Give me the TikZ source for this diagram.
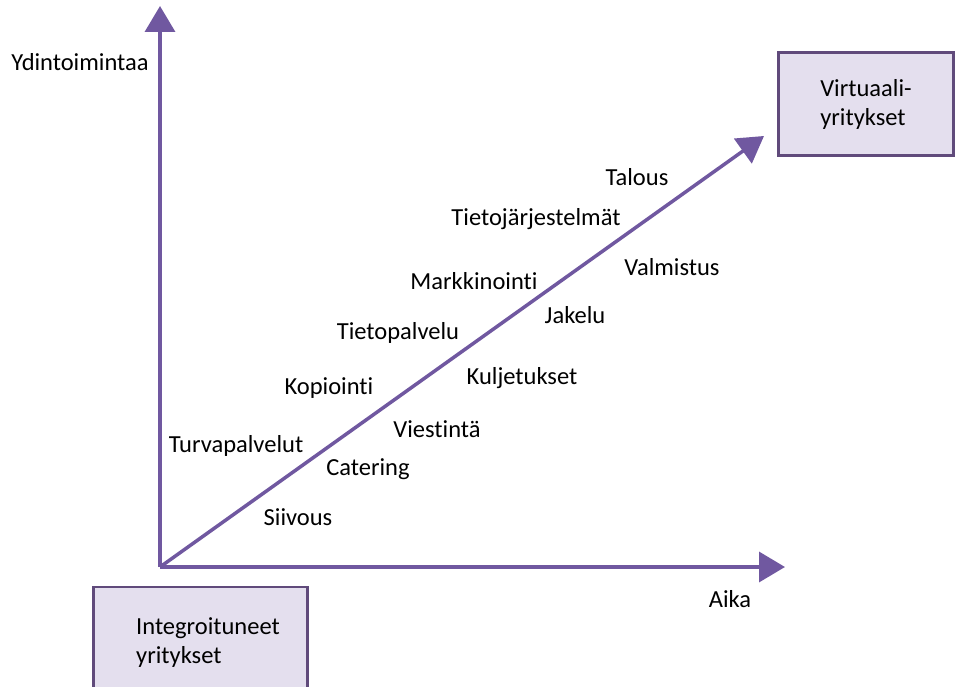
\documentclass[tikz,border=0pt]{standalone}
\usepackage{fontspec}
\setmainfont{Carlito}[Ligatures=NoCommon]
\usetikzlibrary{arrows.meta, positioning}

\definecolor{axispurple}{RGB}{112,88,160}
\definecolor{boxline}{RGB}{96,74,123}
\definecolor{boxfill}{RGB}{228,223,238}

\begin{document}
\begin{tikzpicture}[x=1pt,y=-1pt,
    font=\fontsize{24.5}{29}\selectfont,
    axis/.style={draw=axispurple, line width=3.5pt, -{Triangle[length=26pt,width=30pt]}},
    firm/.style={draw=boxline, fill=boxfill, line width=2.5pt, align=left, inner sep=0pt},
    item/.style={inner sep=0pt}]
  \useasboundingbox (0,0) rectangle (956,687);

  \coordinate (o) at (160,567);
  \coordinate (ytop) at (160,6);
  \coordinate (xend) at (785,567);
  \coordinate (dend) at (764,136);

  \node[firm, minimum width=175pt, minimum height=103pt] (virt) at (866,104)
    {Virtuaali-\\yritykset};
  \node[firm, minimum width=214pt, minimum height=116pt] (integ) at (200.5,645) {};
  \node[item, anchor=west, align=left] (integtext) at (136,643)
    {Integroituneet\\yritykset};

  \path[axis] (o) -- (ytop);
  \path[axis] (o) -- (xend);
  \path[axis] (o) -- (dend);

  \node[item] (ydin) at (80,62) {Ydintoimintaa};
  \node[item] (aika) at (730,599) {Aika};

  \node[item] (talous) at (637,177) {Talous};
  \node[item] (tjarj) at (536,219) {Tietojärjestelmät};
  \node[item] (valm) at (672,267) {Valmistus};
  \node[item] (mark) at (474,281) {Markkinointi};
  \node[item] (jakelu) at (575,315) {Jakelu};
  \node[item] (tpalv) at (398,333) {Tietopalvelu};
  \node[item] (kulj) at (522,378) {Kuljetukset};
  \node[item] (kop) at (329,388) {Kopiointi};
  \node[item] (viest) at (437,429) {Viestintä};
  \node[item] (turva) at (236,446) {Turvapalvelut};
  \node[item] (cater) at (368,469) {Catering};
  \node[item] (siiv) at (298,517) {Siivous};
\end{tikzpicture}
\end{document}
